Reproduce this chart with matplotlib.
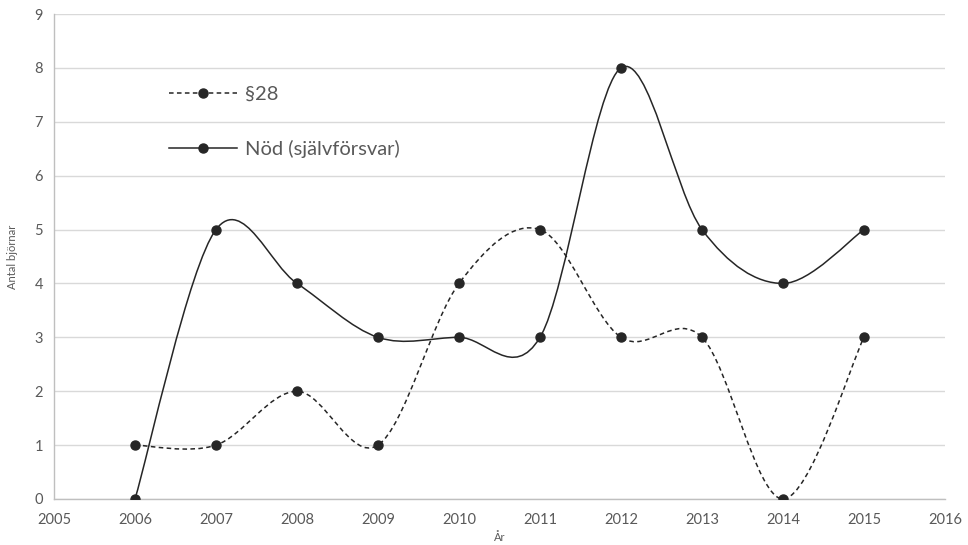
import matplotlib
matplotlib.use("Agg")
import matplotlib.pyplot as plt
from matplotlib.path import Path
from matplotlib.patches import PathPatch
from matplotlib.lines import Line2D
import numpy as np

years = [2006, 2007, 2008, 2009, 2010, 2011, 2012, 2013, 2014, 2015]
s28 = [1, 1, 2, 1, 4, 5, 3, 3, 0, 3]
nod = [0, 5, 4, 3, 3, 3, 8, 5, 4, 5]
labels = ["§28", "Nöd (självförsvar)"]

plt.rcParams['font.family'] = ['Lato', 'DejaVu Sans']

W, H = 968, 545
fig = plt.figure(figsize=(W / 100, H / 100), dpi=100)
ax = fig.add_axes([54 / W, 1 - 499 / H, (945 - 54) / W, (499 - 14) / H])

dark = '#262626'
grid = '#d9d9d9'
tick_c = '#595959'


def smooth_path(x, y):
    pts = np.column_stack([x, y]).astype(float)
    n = len(pts)
    verts = [pts[0]]
    codes = [Path.MOVETO]
    for i in range(n - 1):
        p0 = pts[i - 1] if i > 0 else pts[i]
        p1 = pts[i]
        p2 = pts[i + 1]
        p3 = pts[i + 2] if i + 2 < n else pts[i + 1]
        c1 = p1 + (p2 - p0) / 6.0
        c2 = p2 - (p3 - p1) / 6.0
        verts += [c1, c2, p2]
        codes += [Path.CURVE4] * 3
    return Path(verts, codes)


dash = (0, (3.0, 2.2))
for vals, ls in [(s28, dash), (nod, '-')]:
    patch = PathPatch(smooth_path(years, vals), facecolor='none', edgecolor=dark,
                      lw=1.1, linestyle=ls, zorder=3)
    ax.add_patch(patch)
    ax.plot(years, vals, linestyle='none', marker='o', ms=6.5, color=dark, zorder=4)

ax.set_xlim(2005, 2016)
ax.set_ylim(0, 9)
ax.set_xticks(range(2005, 2017))
ax.set_yticks(range(0, 10))
ax.grid(axis='y', color=grid, lw=1.0)
ax.set_axisbelow(True)
for s in ['top', 'right']:
    ax.spines[s].set_visible(False)
for s in ['left', 'bottom']:
    ax.spines[s].set_color('#bfbfbf')
    ax.spines[s].set_linewidth(1.0)
ax.tick_params(axis='x', length=0, labelsize=10.5, colors=tick_c, pad=10)
ax.tick_params(axis='y', length=0, labelsize=10.5, colors=tick_c, pad=8)

ax.set_xlabel('År', fontsize=8, color=tick_c, labelpad=4)
ax.set_ylabel('Antal björnar', fontsize=8, color=tick_c, labelpad=12)

handles = [Line2D([], [], color=dark, lw=1.1, ls=dash, marker='o', ms=6.5),
           Line2D([], [], color=dark, lw=1.1, ls='-', marker='o', ms=6.5)]
leg = ax.legend(handles, labels, loc='upper left', frameon=False, fontsize=14.5,
                handlelength=3.4, handletextpad=0.37, labelspacing=1.82,
                bbox_to_anchor=(169 / W, 1 - 86 / H), bbox_transform=fig.transFigure,
                borderaxespad=0, borderpad=0)
for t in leg.get_texts():
    t.set_color(tick_c)

fig.savefig('out.png', dpi=100)
